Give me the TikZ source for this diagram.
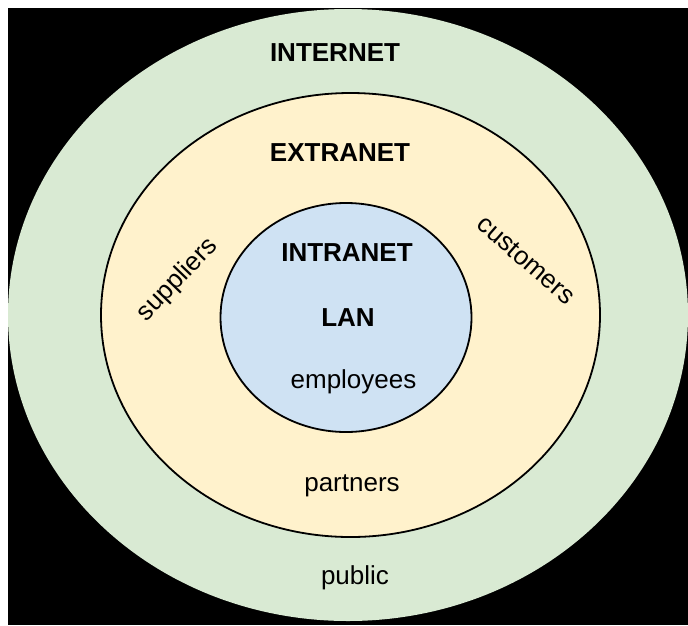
\documentclass[tikz,border=0pt]{standalone}
\usepackage{fontspec}
\setmainfont{Liberation Sans}
\definecolor{netgreen}{HTML}{D9EAD3}
\definecolor{netyellow}{HTML}{FFF2CC}
\definecolor{netblue}{HTML}{CFE2F3}
\begin{document}
\begin{tikzpicture}[x=1pt,y=-1pt,
  ring/.style={draw=black,line width=1.8pt},
  big/.style={font=\fontsize{26}{30}\selectfont\bfseries,anchor=base,inner sep=0pt},
  lbl/.style={font=\fontsize{26}{30}\selectfont,inner sep=0pt}]
\useasboundingbox (0,0) rectangle (688,625);
\fill[white] (0,0) rectangle (688,625);
\fill[black] (8,8) rectangle (688,625);
\fill[netgreen] (348,315) ellipse [x radius=340, y radius=306];
\filldraw[ring,fill=netyellow] (350.5,315) ellipse [x radius=249.5, y radius=222];
\filldraw[ring,fill=netblue] (346,317.5) ellipse [x radius=125.5, y radius=114.5];
\node[big] (internet) at (335,61) {INTERNET};
\node[big] (extranet) at (340,161) {EXTRANET};
\node[big] (intranet) at (347,261) {INTRANET};
\node[big] (lan) at (348,326) {LAN};
\node[lbl,anchor=base] (employees) at (353.5,388) {employees};
\node[lbl,anchor=base] (partners) at (352,491) {partners};
\node[lbl,anchor=base] (public) at (355,584) {public};
\node[lbl,rotate=46] (suppliers) at (178,280) {suppliers};
\node[lbl,rotate=-41] (customers) at (526,260) {customers};
\end{tikzpicture}
\end{document}
